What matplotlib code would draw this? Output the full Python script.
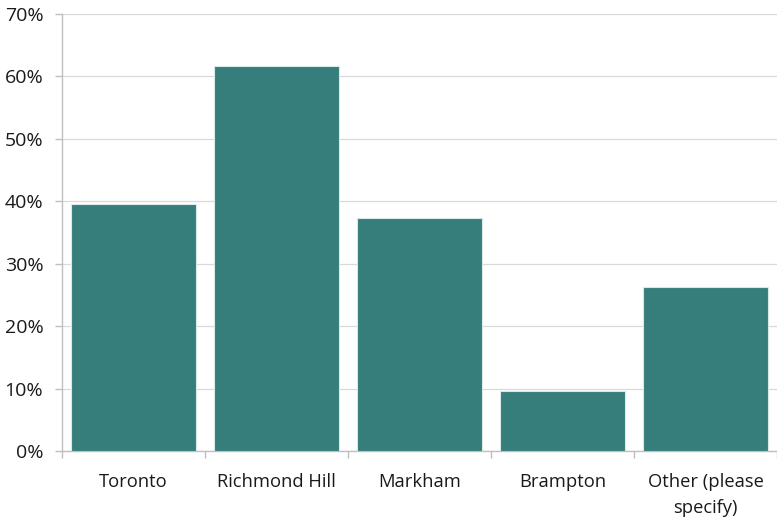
import matplotlib
matplotlib.use("Agg")
import matplotlib.pyplot as plt
from matplotlib.ticker import FuncFormatter, FixedLocator
import numpy as np

categories = ["Toronto", "Richmond Hill", "Markham", "Brampton", "Other (please\nspecify)"]
values = [39.5, 61.7, 37.3, 9.6, 26.2]
yticks = [0, 10, 20, 30, 40, 50, 60, 70]

plt.rcParams['font.family'] = ['Open Sans', 'DejaVu Sans']

fig = plt.figure(figsize=(7.77, 5.21), dpi=100)
ax = fig.add_axes([62/777, 1-451/521, (777-62)/777, (451-14)/521])

x = np.arange(len(categories))
ax.bar(x, values, width=0.87, color="#367E7B", edgecolor="#dce8e7", linewidth=0.8, zorder=3)

ax.set_xlim(-0.5, len(categories)-0.5)
ax.set_ylim(0, 70)
ax.set_yticks(yticks)
ax.yaxis.set_major_formatter(FuncFormatter(lambda v, p: f"{int(v)}%"))
ax.grid(axis='y', color="#d9d9d9", linewidth=0.9, zorder=0)

ax.set_xticks(x)
ax.set_xticklabels(categories, fontsize=13.2, color="#1a1a1a", linespacing=1.62)
ax.xaxis.set_minor_locator(FixedLocator(np.arange(-0.5, len(categories), 1.0)))
ax.tick_params(axis='x', which='major', length=0, pad=15.5)
ax.tick_params(axis='x', which='minor', length=5, color="#bfbfbf", width=1)
ax.tick_params(axis='y', length=5, color="#bfbfbf", width=1, labelsize=14, labelcolor="#1a1a1a", pad=8.5)

for s in ['top', 'right']:
    ax.spines[s].set_visible(False)
for s in ['left', 'bottom']:
    ax.spines[s].set_color("#bfbfbf")
    ax.spines[s].set_linewidth(1)

fig.savefig("out.png", dpi=100)
